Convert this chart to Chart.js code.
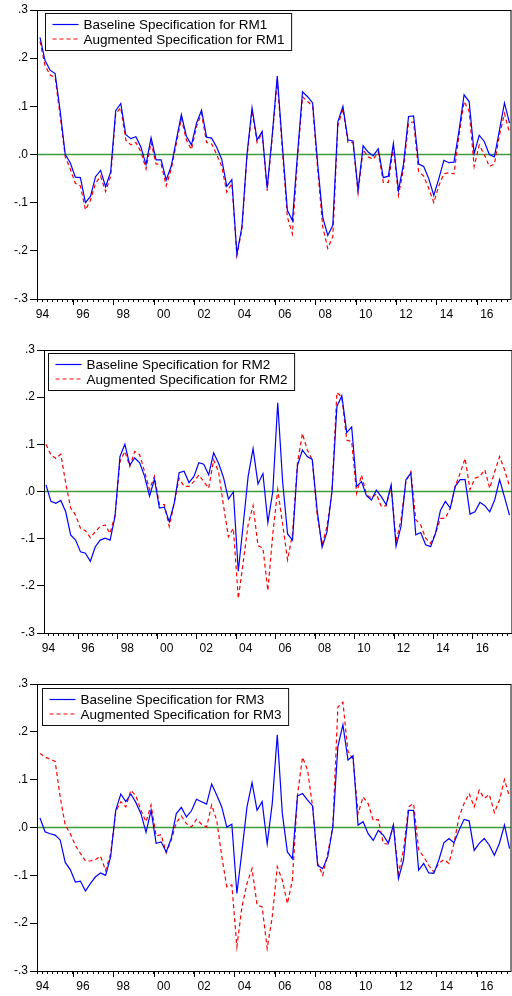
<!DOCTYPE html>
<html>
<head>
<meta charset="utf-8">
<script src="https://cdn.jsdelivr.net/npm/chart.js@4.4.1/dist/chart.umd.min.js"></script>
<style>
  html, body { margin: 0; padding: 0; background: #fff; overflow: hidden; }
  canvas { position: absolute; left: 0; }
</style>
</head>
<body>
<canvas id="rm1" width="512" height="330" style="top:0px"></canvas>
<canvas id="rm2" width="512" height="330" style="top:330px"></canvas>
<canvas id="rm3" width="512" height="332" style="top:664px"></canvas>
<script>
// quarterly observations
const quarters = [
  '1994Q2','1994Q3','1994Q4',
  '1995Q1','1995Q2','1995Q3','1995Q4','1996Q1','1996Q2','1996Q3','1996Q4',
  '1997Q1','1997Q2','1997Q3','1997Q4','1998Q1','1998Q2','1998Q3','1998Q4',
  '1999Q1','1999Q2','1999Q3','1999Q4','2000Q1','2000Q2','2000Q3','2000Q4',
  '2001Q1','2001Q2','2001Q3','2001Q4','2002Q1','2002Q2','2002Q3','2002Q4',
  '2003Q1','2003Q2','2003Q3','2003Q4','2004Q1','2004Q2','2004Q3','2004Q4',
  '2005Q1','2005Q2','2005Q3','2005Q4','2006Q1','2006Q2','2006Q3','2006Q4',
  '2007Q1','2007Q2','2007Q3','2007Q4','2008Q1','2008Q2','2008Q3','2008Q4',
  '2009Q1','2009Q2','2009Q3','2009Q4','2010Q1','2010Q2','2010Q3','2010Q4',
  '2011Q1','2011Q2','2011Q3','2011Q4','2012Q1','2012Q2','2012Q3','2012Q4',
  '2013Q1','2013Q2','2013Q3','2013Q4','2014Q1','2014Q2','2014Q3','2014Q4',
  '2015Q1','2015Q2','2015Q3','2015Q4','2016Q1','2016Q2','2016Q3','2016Q4',
  '2017Q1','2017Q2','2017Q3','2017Q4'
];

// x axis labels (centred on the year)
const tickYears = [1994,1996,1998,2000,2002,2004,2006,2008,2010,2012,2014,2016];
const tickLabels = ['94','96','98','00','02','04','06','08','10','12','14','16'];
const yTicks = [-0.3,-0.2,-0.1,0.0,0.1,0.2,0.3];

const rm1Base = [0.243,0.195,0.175,0.168,0.090,0.000,-0.017,-0.047,-0.048,-0.100,
  -0.087,-0.046,-0.033,-0.067,-0.036,0.091,0.106,0.041,0.033,0.037,
  0.015,-0.021,0.035,-0.011,-0.011,-0.053,-0.024,0.030,0.083,0.038,
  0.020,0.065,0.092,0.036,0.034,0.015,-0.010,-0.066,-0.052,-0.207,
  -0.150,0.000,0.097,0.030,0.048,-0.070,0.040,0.163,0.020,-0.116,
  -0.137,0.000,0.130,0.120,0.107,-0.020,-0.130,-0.168,-0.147,0.068,
  0.100,0.030,0.028,-0.074,0.018,0.005,-0.003,0.012,-0.048,-0.045,
  0.023,-0.075,-0.020,0.079,0.080,-0.020,-0.025,-0.050,-0.085,-0.050,
  -0.012,-0.017,-0.016,0.050,0.124,0.110,0.002,0.040,0.027,0.000,
  -0.005,0.050,0.107,0.065];
const rm1Aug = [0.235,0.185,0.165,0.160,0.080,-0.005,-0.030,-0.060,-0.065,-0.115,
  -0.095,-0.060,-0.045,-0.077,-0.045,0.085,0.097,0.030,0.020,0.025,
  0.005,-0.030,0.025,-0.020,-0.020,-0.065,-0.030,0.022,0.075,0.030,
  0.010,0.058,0.085,0.025,0.022,0.000,-0.025,-0.078,-0.060,-0.210,
  -0.155,-0.005,0.090,0.025,0.045,-0.075,0.035,0.155,0.010,-0.130,
  -0.165,-0.010,0.120,0.110,0.100,-0.030,-0.150,-0.195,-0.170,0.060,
  0.095,0.025,0.025,-0.080,0.010,-0.005,-0.010,0.005,-0.058,-0.058,
  0.015,-0.085,-0.030,0.065,0.068,-0.035,-0.045,-0.070,-0.100,-0.065,
  -0.040,-0.038,-0.040,0.040,0.110,0.090,-0.025,0.020,0.000,-0.025,
  -0.020,0.040,0.085,0.045];

const rm2Base = [0.014,-0.021,-0.025,-0.019,-0.043,-0.092,-0.103,-0.128,-0.131,-0.148,
  -0.117,-0.103,-0.099,-0.103,-0.053,0.074,0.100,0.056,0.071,0.061,
  0.032,-0.010,0.026,-0.035,-0.033,-0.064,-0.025,0.040,0.043,0.019,
  0.032,0.061,0.058,0.035,0.082,0.060,0.030,-0.016,-0.001,-0.169,
  -0.070,0.032,0.091,0.016,0.038,-0.066,0.000,0.188,0.020,-0.090,
  -0.103,0.055,0.088,0.074,0.068,-0.040,-0.118,-0.085,0.000,0.180,
  0.203,0.125,0.137,0.011,0.021,-0.009,-0.018,0.003,-0.011,-0.028,
  0.014,-0.116,-0.074,0.025,0.039,-0.092,-0.087,-0.113,-0.117,-0.089,
  -0.040,-0.021,-0.035,0.011,0.025,0.025,-0.048,-0.043,-0.023,-0.030,
  -0.043,-0.018,0.025,-0.012,-0.050];
const rm2Aug = [0.100,0.078,0.070,0.079,0.018,-0.035,-0.050,-0.078,-0.083,-0.098,
  -0.085,-0.074,-0.071,-0.089,-0.050,0.063,0.085,0.053,0.085,0.078,
  0.042,0.004,0.032,-0.028,-0.028,-0.074,-0.025,0.028,0.011,0.011,
  0.021,0.035,0.021,0.007,0.067,0.042,-0.030,-0.096,-0.078,-0.227,
  -0.150,-0.070,-0.030,-0.115,-0.120,-0.210,-0.090,0.004,-0.070,-0.145,
  -0.090,0.060,0.123,0.088,0.067,-0.050,-0.113,-0.074,0.000,0.210,
  0.200,0.109,0.106,-0.004,0.035,-0.007,-0.014,-0.005,-0.032,-0.030,
  0.010,-0.106,-0.060,0.021,0.042,-0.060,-0.071,-0.099,-0.110,-0.089,
  -0.057,-0.057,-0.035,0.011,0.039,0.070,0.004,0.028,0.032,0.046,
  0.007,0.042,0.074,0.046,0.011];

const rm3Base = [0.020,-0.009,-0.013,-0.016,-0.026,-0.073,-0.088,-0.114,-0.112,-0.133,
  -0.117,-0.103,-0.095,-0.100,-0.061,0.036,0.070,0.054,0.070,0.052,
  0.029,-0.010,0.036,-0.033,-0.030,-0.051,-0.023,0.029,0.042,0.022,
  0.035,0.059,0.054,0.049,0.091,0.068,0.043,0.001,0.007,-0.138,
  -0.050,0.043,0.094,0.036,0.054,-0.034,0.050,0.194,0.029,-0.051,
  -0.065,0.066,0.071,0.057,0.045,-0.079,-0.086,-0.061,0.001,0.169,
  0.215,0.141,0.150,0.005,0.012,-0.013,-0.027,-0.006,-0.016,-0.033,
  0.005,-0.107,-0.068,0.036,0.036,-0.089,-0.075,-0.095,-0.096,-0.068,
  -0.032,-0.023,-0.032,-0.006,0.017,0.014,-0.048,-0.033,-0.023,-0.037,
  -0.058,-0.033,0.005,-0.044];
const rm3Aug = [0.155,0.147,0.143,0.138,0.064,0.005,-0.013,-0.037,-0.054,-0.070,
  -0.070,-0.067,-0.060,-0.090,-0.054,0.033,0.054,0.043,0.078,0.066,
  0.036,0.012,0.047,-0.018,-0.015,-0.053,-0.026,0.010,0.024,0.008,
  0.001,0.017,0.007,0.001,0.047,0.015,-0.060,-0.124,-0.120,-0.249,
  -0.166,-0.117,-0.086,-0.162,-0.166,-0.253,-0.187,-0.082,-0.110,-0.159,
  -0.110,0.068,0.147,0.120,0.043,-0.075,-0.100,-0.054,0.001,0.252,
  0.262,0.159,0.143,0.029,0.064,0.050,0.015,0.017,-0.033,-0.035,
  0.005,-0.096,-0.047,0.043,0.050,-0.047,-0.061,-0.079,-0.093,-0.075,
  -0.067,-0.075,-0.033,0.022,0.050,0.071,0.043,0.078,0.061,0.069,
  0.031,0.057,0.100,0.064];

const FONT = '"Liberation Sans", Arial, sans-serif';

// quarter string -> position on a time axis (middle of the quarter)
function qPos(q) {
  return Number(q.slice(0, 4)) + (Number(q.slice(5)) - 1) / 4 + 0.125;
}

function toPoints(vals) {
  return vals.map((v, i) => ({ x: qPos(quarters[i]), y: v }));
}

function yLabel(v) {
  let s = Math.abs(v).toFixed(1).replace(/^0/, '');
  return (v < -1e-9 ? '-' : '') + s;
}

// green zero line, frame, long ticks on even years
const decor = {
  id: 'decor',
  beforeDatasetsDraw(chart) {
    const ctx = chart.ctx, a = chart.chartArea;
    const y0 = chart.scales.y.getPixelForValue(0);
    ctx.save();
    ctx.strokeStyle = '#3d9c3d';
    ctx.lineWidth = 1.5;
    ctx.beginPath();
    ctx.moveTo(a.left, y0);
    ctx.lineTo(a.right, y0);
    ctx.stroke();
    ctx.restore();
  },
  afterDraw(chart) {
    const ctx = chart.ctx, a = chart.chartArea, xs = chart.scales.x;
    ctx.save();
    ctx.strokeStyle = '#000';
    ctx.lineWidth = 1;
    ctx.strokeRect(a.left + 0.5, a.top + 0.5, a.right - a.left, a.bottom - a.top);
    tickYears.forEach(yr => {
      if (yr < xs.min || yr > xs.max) return;
      const px = Math.round(xs.getPixelForValue(yr)) + 0.5;
      ctx.beginPath();
      ctx.moveTo(px, a.bottom);
      ctx.lineTo(px, a.bottom + 6);
      ctx.stroke();
    });
    ctx.restore();
  }
};

// boxed legend in the top left corner of the plot
const boxLegend = {
  id: 'boxLegend',
  afterDraw(chart, args, opts) {
    const ctx = chart.ctx, a = chart.chartArea;
    const x0 = Math.round(a.left + opts.dx) + 0.5, y0 = Math.round(a.top + opts.dy) + 0.5;
    ctx.save();
    ctx.font = '13.5px ' + FONT;
    const sets = chart.data.datasets;
    const w = 38 + Math.max(...sets.map(d => ctx.measureText(d.label).width)) + 7;
    const h = 37;
    ctx.fillStyle = '#fff';
    ctx.fillRect(x0, y0, w, h);
    ctx.strokeStyle = '#111';
    ctx.lineWidth = 1;
    ctx.strokeRect(x0, y0, w, h);
    sets.forEach((d, k) => {
      const yy = y0 + 11 + k * 14.5;
      ctx.strokeStyle = d.borderColor;
      ctx.lineWidth = d.borderWidth;
      ctx.setLineDash(d.borderDash || []);
      ctx.beginPath();
      ctx.moveTo(x0 + 7, yy);
      ctx.lineTo(x0 + 33, yy);
      ctx.stroke();
      ctx.setLineDash([]);
      ctx.fillStyle = '#000';
      ctx.textBaseline = 'middle';
      ctx.fillText(d.label, x0 + 38, yy + 1);
    });
    ctx.restore();
  }
};

function makePanel(id, name, baseVals, augVals, g) {
  return new Chart(document.getElementById(id), {
    type: 'line',
    data: {
      datasets: [
        { label: 'Baseline Specification for ' + name, data: toPoints(baseVals),
          borderColor: '#0000ff', borderWidth: 1.2, pointRadius: 0, tension: 0 },
        { label: 'Augmented Specification for ' + name, data: toPoints(augVals),
          borderColor: '#ff0000', borderWidth: 1.2, borderDash: [4, 3], pointRadius: 0, tension: 0 }
      ]
    },
    options: {
      responsive: false,
      animation: false,
      events: [],
      layout: { padding: { top: g.padTop, left: 0, right: 0, bottom: 0 } },
      plugins: {
        legend: { display: false },
        tooltip: { enabled: false },
        boxLegend: { dx: g.legDx, dy: g.legDy }
      },
      scales: {
        x: {
          type: 'linear',
          min: g.xmin,
          max: g.xmax,
          afterBuildTicks(s) {
            const t = [];
            for (let q = Math.ceil(s.min * 4); q <= Math.floor(s.max * 4); q++) t.push({ value: q / 4 });
            s.ticks = t;
          },
          afterFit(s) { s.height = g.xAxisH; },
          grid: { drawOnChartArea: false, drawTicks: true, tickLength: 3, color: '#000' },
          border: { color: '#000', width: 1 },
          ticks: {
            autoSkip: false, maxRotation: 0, minRotation: 0, padding: 5,
            color: '#000', font: { family: FONT, size: 12 },
            callback(v) {
              const k = tickYears.indexOf(v - 0.5);
              return k >= 0 ? tickLabels[k] : '';
            }
          }
        },
        y: {
          min: -0.3,
          max: 0.3,
          afterBuildTicks(s) { s.ticks = yTicks.map(v => ({ value: v })); },
          afterFit(s) { s.width = g.axisW; },
          grid: { drawOnChartArea: false, drawTicks: true, tickLength: 7, color: '#000' },
          border: { color: '#000', width: 1 },
          ticks: { padding: 2, color: '#000', font: { family: FONT, size: 12 }, callback: yLabel }
        }
      }
    },
    plugins: [decor, boxLegend]
  });
}

makePanel('rm1', 'RM1', rm1Base, rm1Aug,
  { axisW: 37, padTop: 10, xAxisH: 31, xmin: 1994.227, xmax: 2017.674, legDx: 8, legDy: 2.5 });
makePanel('rm2', 'RM2', rm2Base, rm2Aug,
  { axisW: 44, padTop: 20, xAxisH: 27, xmin: 1994.274, xmax: 2017.976, legDx: 3.5, legDy: 3 });
makePanel('rm3', 'RM3', rm3Base, rm3Aug,
  { axisW: 37, padTop: 20, xAxisH: 25, xmin: 1994.227, xmax: 2017.674, legDx: 4.5, legDy: 3.5 });
</script>
</body>
</html>
